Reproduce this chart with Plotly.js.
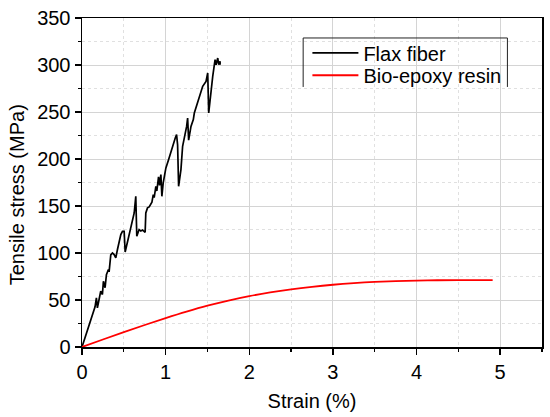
<!DOCTYPE html>
<html>
<head>
<meta charset="utf-8">
<script src="https://cdn.plot.ly/plotly-3.0.1.min.js"></script>
<style>html,body{margin:0;padding:0;background:#fff;}#chart{width:550px;height:417px;}</style>
</head>
<body>
<div id="chart"></div>
<script>
// Flax fiber tensile curve (strain %, stress MPa)
const flaxStrain = [0, 0.156, 0.172, 0.184, 0.204, 0.224, 0.244, 0.256, 0.276, 0.292, 0.316, 0.324, 0.344, 0.364, 0.384, 0.404, 0.424, 0.444, 0.464, 0.484, 0.504, 0.516, 0.532, 0.556, 0.572, 0.596, 0.624, 0.643, 0.655, 0.683, 0.703, 0.723, 0.743, 0.755, 0.763, 0.783, 0.803, 0.823, 0.836, 0.852, 0.863, 0.883, 0.895, 0.915, 0.927, 0.943, 0.955, 0.971, 1.003, 1.035, 1.063, 1.083, 1.115, 1.131, 1.143, 1.155, 1.183, 1.203, 1.235, 1.251, 1.263, 1.275, 1.303, 1.331, 1.343, 1.383, 1.411, 1.443, 1.483, 1.503, 1.515, 1.543, 1.563, 1.591, 1.603, 1.623, 1.635, 1.651, 1.651];
const flaxStress = [0, 42.7, 52.3, 41.6, 50.5, 59.4, 55.8, 70, 63, 77, 82.4, 80, 98, 100, 98.3, 94.9, 103.7, 112, 119.6, 123, 123.1, 101, 107.2, 117.8, 121.4, 130, 142.6, 160.3, 117.8, 124.9, 123.5, 124.5, 123.1, 122, 142.6, 148, 149, 152, 154, 162, 159, 171, 166, 181, 172, 183.4, 160.3, 174.5, 190.5, 199.3, 208, 213.5, 222.3, 226, 215, 171, 188.7, 213.5, 226, 234.7, 243.6, 220, 234.7, 241.9, 248.9, 259.6, 266.7, 277.3, 282.6, 291.5, 248.9, 273.7, 287.9, 305.6, 300.3, 307.4, 300.3, 303.9, 300.3];

// Bio-epoxy resin tensile curve
const resinStrain = [0, 0.25, 0.5, 0.75, 1, 1.25, 1.5, 1.75, 2, 2.25, 2.5, 2.75, 3, 3.25, 3.5, 3.75, 4, 4.25, 4.5, 4.75, 4.91];
const resinStress = [0, 8, 15.8, 23.4, 30.7, 37.6, 43.9, 49.4, 54.1, 58, 61.3, 64, 66.2, 67.9, 69.2, 70.1, 70.7, 71.0, 71.2, 71.2, 71.2];

const seriesNames = ["Flax fiber", "Bio-epoxy resin"];
const xTicks = [0, 1, 2, 3, 4, 5];
const yTicks = [0, 50, 100, 150, 200, 250, 300, 350];

const FONT = "Liberation Sans, Arial, sans-serif";

const traces = [
  {x: flaxStrain, y: flaxStress, type: "scatter", mode: "lines", name: seriesNames[0],
   line: {color: "#000000", width: 1.7}, legend: "legend"},
  {x: resinStrain, y: resinStress, type: "scatter", mode: "lines", name: seriesNames[1],
   line: {color: "#ff0000", width: 1.8, shape: "spline"}, legend: "legend2"}
];

const legendCommon = {
  bgcolor: "rgba(0,0,0,0)", borderwidth: 0, font: {family: FONT, size: 20, color: "#000"},
  xanchor: "left", yanchor: "middle", itemwidth: 46
};

const layout = {
  width: 550, height: 417,
  margin: {l: 82, r: 8, t: 18, b: 70},
  paper_bgcolor: "#ffffff", plot_bgcolor: "#ffffff",
  font: {family: FONT, size: 20, color: "#000"},
  showlegend: true,
  legend: Object.assign({}, legendCommon, {x: 0.49, y: 0.894}),
  legend2: Object.assign({}, legendCommon, {x: 0.49, y: 0.826}),
  xaxis: {
    range: [0, 5.5], tickvals: xTicks, ticktext: xTicks.map(String),
    showline: true, linecolor: "#000", linewidth: 1.5, mirror: true,
    ticks: "outside", ticklen: 6, tickwidth: 1.5, tickcolor: "#000",
    showgrid: true, gridcolor: "#d4d4d4", gridwidth: 1, zeroline: false,
    tickfont: {family: FONT, size: 20, color: "#000"},
    minor: {dtick: 0.5, ticks: "outside", ticklen: 3, tickwidth: 1.2, tickcolor: "#000",
            showgrid: true, gridcolor: "#e0e0e0", griddash: "dot", gridwidth: 1},
    title: {text: "Strain (%)", font: {family: FONT, size: 20, color: "#000"}, standoff: 12},
    automargin: false
  },
  yaxis: {
    range: [0, 350], tickvals: yTicks, ticktext: yTicks.map(String),
    showline: true, linecolor: "#000", linewidth: 1.5, mirror: true,
    ticks: "outside", ticklen: 6, tickwidth: 1.5, tickcolor: "#000",
    showgrid: true, gridcolor: "#d4d4d4", gridwidth: 1, zeroline: false,
    tickfont: {family: FONT, size: 20, color: "#000"},
    minor: {dtick: 25, ticks: "outside", ticklen: 3, tickwidth: 1.2, tickcolor: "#000",
            showgrid: true, gridcolor: "#e0e0e0", griddash: "dot", gridwidth: 1},
    automargin: false
  },
  annotations: [{
    text: "Tensile stress (MPa)", xref: "paper", yref: "paper", x: -0.142, y: 0.463,
    xanchor: "center", yanchor: "middle", textangle: -90, showarrow: false,
    font: {family: FONT, size: 20, color: "#000"}
  }],
  shapes: [{
    type: "path", xref: "paper", yref: "paper",
    path: "M0.4808,0.7904 L0.4808,0.9393 L0.9248,0.9393 L0.9248,0.7904",
    line: {color: "#222", width: 1}
  }]
};

Plotly.newPlot("chart", traces, layout, {displayModeBar: false, staticPlot: true});
</script>
</body>
</html>
